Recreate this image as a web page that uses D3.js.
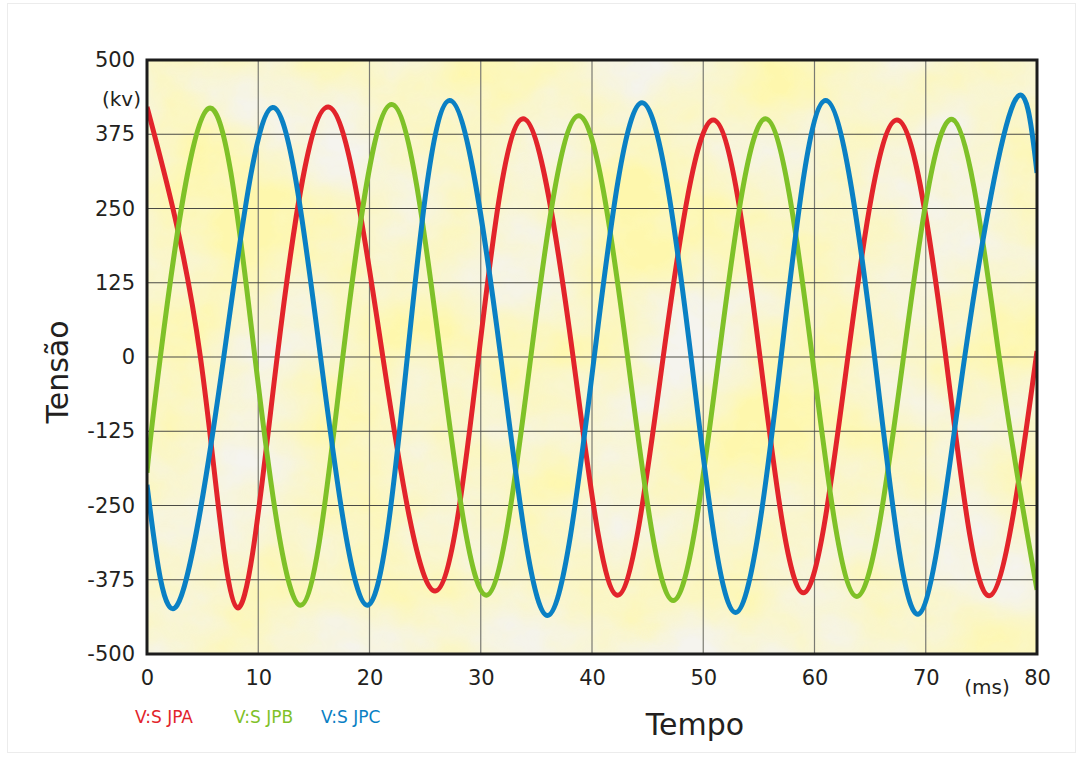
<!DOCTYPE html>
<html>
<head>
<meta charset="utf-8">
<script src="https://cdn.jsdelivr.net/npm/d3@7"></script>
<style>
  html, body { margin: 0; padding: 0; background: #fff; }
  svg { display: block; }
  text { font-family: "DejaVu Sans", sans-serif; fill: #231f20; }
</style>
</head>
<body>
<svg id="chart"></svg>
<script>
// tick values
const timeTicks = [0, 10, 20, 30, 40, 50, 60, 70, 80];
const voltTicks = [500, 375, 250, 125, 0, -125, -250, -375, -500];

// [ms, kV]: extremes and zero crossings
const phaseA = [[0, 421], [4.8, 0], [8.1, -422], [11.7, 0], [16.3, 421], [21.2, 0], [25.9, -394],
  [29.8, 0], [33.8, 401], [38.3, 0], [42.3, -401], [46.4, 0], [50.9, 399], [55.1, 0], [59.0, -397],
  [63.0, 0], [67.4, 399], [71.8, 0], [75.7, -402], [80, 10]];
const phaseB = [[0, -195], [1.2, 0], [5.5, 418], [9.7, 0], [13.8, -418], [17.6, 0], [22.0, 425],
  [26.4, 0], [30.5, -401], [34.5, 0], [38.8, 406], [43.2, 0], [47.3, -410], [51.4, 0], [55.6, 401],
  [59.8, 0], [63.8, -403], [68.0, 0], [72.4, 400], [76.6, 0], [80, -392]];
const phaseC = [[0, -215], [2.7, -418], [6.9, 0], [11.3, 420], [15.6, 0], [19.8, -418], [23.4, 0],
  [27.2, 432], [31.8, 0], [36.0, -435], [40.2, 0], [44.5, 428], [48.9, 0], [52.9, -430], [57.0, 0],
  [61.0, 432], [65.4, 0], [69.3, -433], [73.5, 0], [77.9, 427], [80, 310]];

const seriesNames = ['V:S JPA', 'V:S JPB', 'V:S JPC'];
const seriesColors = ['#e2242b', '#7fc128', '#0a80c4'];

const width = 1084;
const height = 758;
const margin = { top: 60, right: 47, bottom: 104, left: 147 };
const innerW = width - margin.left - margin.right;
const innerH = height - margin.top - margin.bottom;

const svg = d3.select('#chart')
  .attr('width', width)
  .attr('height', height);

// faint frame round the whole picture
svg.append('rect')
  .attr('x', 7.5).attr('y', 3.5)
  .attr('width', 1068).attr('height', 749)
  .attr('fill', 'none')
  .attr('stroke', '#ececec');

const defs = svg.append('defs');
const filter = defs.append('filter')
  .attr('id', 'mottle')
  .attr('x', 0).attr('y', 0).attr('width', 1).attr('height', 1)
  .attr('color-interpolation-filters', 'sRGB');
filter.append('feTurbulence')
  .attr('type', 'fractalNoise')
  .attr('baseFrequency', '0.007 0.009')
  .attr('numOctaves', 5)
  .attr('seed', 3);
filter.append('feColorMatrix')
  .attr('type', 'matrix')
  .attr('values', '0 0 0 0 0.995  0 0 0 0 0.97  0 0 0 0 0.68  1.9 0 0 0 -0.45');
filter.append('feComposite')
  .attr('in2', 'SourceGraphic')
  .attr('operator', 'in');

const x = d3.scaleLinear().domain([0, 80]).range([0, innerW]);
const y = d3.scaleLinear().domain([-500, 500]).range([innerH, 0]);

const g = svg.append('g')
  .attr('transform', `translate(${margin.left},${margin.top})`);

// background
g.append('rect')
  .attr('width', innerW).attr('height', innerH)
  .attr('fill', '#f5f4ee');
g.append('rect')
  .attr('width', innerW).attr('height', innerH)
  .attr('fill', '#fff')
  .attr('filter', 'url(#mottle)');

// grid
g.append('g')
  .selectAll('line')
  .data(timeTicks.slice(1, -1))
  .join('line')
  .attr('x1', (d) => x(d)).attr('x2', (d) => x(d))
  .attr('y1', 0).attr('y2', innerH)
  .attr('stroke', '#7a7a72')
  .attr('stroke-width', 1.2);

g.append('g')
  .selectAll('line')
  .data(voltTicks.slice(1, -1))
  .join('line')
  .attr('x1', 0).attr('x2', innerW)
  .attr('y1', (d) => y(d)).attr('y2', (d) => y(d))
  .attr('stroke', '#4a4a44')
  .attr('stroke-width', 1.2);

// curves
const line = d3.line()
  .x((d) => x(d[0]))
  .y((d) => y(d[1]))
  .curve(d3.curveNatural);

g.append('defs').append('clipPath').attr('id', 'plotClip')
  .append('rect').attr('width', innerW).attr('height', innerH);

g.append('g')
  .attr('clip-path', 'url(#plotClip)')
  .selectAll('path')
  .data([phaseA, phaseB, phaseC])
  .join('path')
  .attr('d', line)
  .attr('fill', 'none')
  .attr('stroke', (d, i) => seriesColors[i])
  .attr('stroke-width', 5)
  .attr('stroke-linejoin', 'round');

// border
g.append('rect')
  .attr('width', innerW).attr('height', innerH)
  .attr('fill', 'none')
  .attr('stroke', '#1c1c1c')
  .attr('stroke-width', 3);

// axes
const yAxis = d3.axisLeft(y).tickValues(voltTicks).tickSize(0).tickPadding(12)
  .tickFormat((d) => String(d));
g.append('g')
  .call(yAxis)
  .call((a) => a.select('.domain').remove())
  .selectAll('text')
  .style('font-size', '21px')
  .attr('fill', '#231f20');

const xAxis = d3.axisBottom(x).tickValues(timeTicks).tickSize(0).tickPadding(16)
  .tickFormat((d) => String(d));
g.append('g')
  .attr('transform', `translate(0,${innerH})`)
  .call(xAxis)
  .call((a) => a.select('.domain').remove())
  .selectAll('text')
  .style('font-size', '21px')
  .attr('fill', '#231f20');

// unit labels
svg.append('text')
  .attr('x', 141).attr('y', 106)
  .attr('text-anchor', 'end')
  .style('font-size', '20px')
  .text('(kv)');

svg.append('text')
  .attr('x', 987).attr('y', 694)
  .attr('text-anchor', 'middle')
  .style('font-size', '20px')
  .text('(ms)');

// titles
svg.append('text')
  .attr('transform', 'translate(68,372) rotate(-90)')
  .attr('text-anchor', 'middle')
  .style('font-size', '30px')
  .text('Tensão');

svg.append('text')
  .attr('x', 695).attr('y', 735)
  .attr('text-anchor', 'middle')
  .style('font-size', '30px')
  .text('Tempo');

// legend
const legendX = [135, 234, 321];
svg.append('g')
  .selectAll('text')
  .data(seriesNames)
  .join('text')
  .attr('x', (d, i) => legendX[i])
  .attr('y', 723)
  .style('font-size', '17px')
  .style('fill', (d, i) => seriesColors[i])
  .text((d) => d);
</script>
</body>
</html>
